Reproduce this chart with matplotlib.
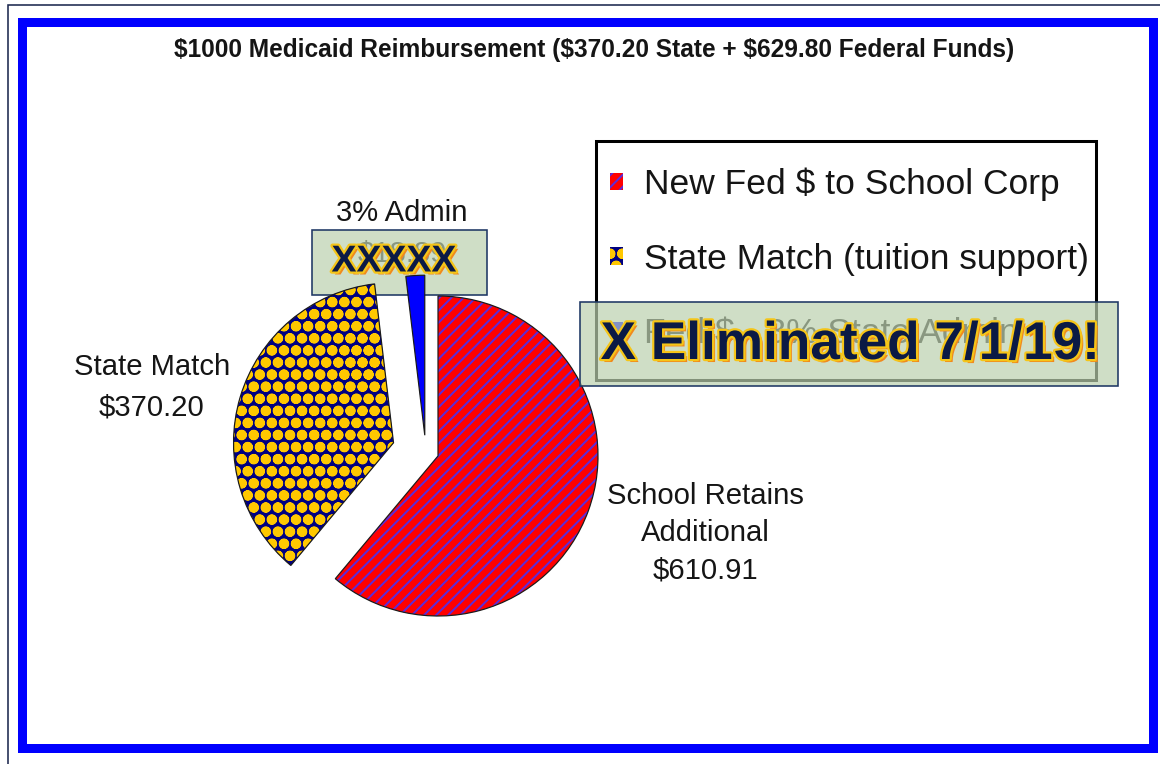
import numpy as np
import matplotlib
matplotlib.use("Agg")
import matplotlib.pyplot as plt
from matplotlib.patches import Rectangle
from matplotlib import patheffects as pe

# Размер картинки в пикселях
W, H = 1160, 764
DPI = 145

# Данные диаграммы
title = "$1000 Medicaid Reimbursement ($370.20 State + $629.80 Federal Funds)"
slice_labels = ["New Fed $ to School Corp", "State Match (tuition support)", "Fed $ - 3% State Admin"]
slice_values = [610.91, 370.20, 18.89]
slice_explode = [0.0, 0.29, 0.13]
callouts = ["School Retains\nAdditional\n$610.91", "State Match\n$370.20", "3% Admin"]
hidden_admin = "$18.89"
stamp_small = "XXXXX"
stamp_big = "X Eliminated 7/1/19!"

# Стили
slice_faces = ["#FF0000", "#000080", "#0000FF"]
slice_hatch_colors = ["#5E2BD8", "#FFC800", "#0000FF"]
slice_hatches = ["////", "OOoo..", None]
TXT = "#151515"
SAGE = "#BBD0AE"
NAVY_EDGE = "#1F3864"

plt.rcParams['font.family'] = ['Liberation Sans', 'DejaVu Sans']
plt.rcParams['hatch.linewidth'] = 1.0

PIE_C = (438, H - 456)
PIE_R = 160
ADMIN_NUDGE = (-12, 0)


def place_wedges(wedges):
    """Сдвигаем сектора (explode в долях радиуса)."""
    for i, (w, e) in enumerate(zip(wedges, slice_explode)):
        tm = np.deg2rad((w.theta1 + w.theta2) / 2)
        cx = PIE_C[0] + e * PIE_R * np.cos(tm)
        cy = PIE_C[1] + e * PIE_R * np.sin(tm)
        if i == 2:
            cx += ADMIN_NUDGE[0]
            cy += ADMIN_NUDGE[1]
        w.set_center((cx, cy))


fig = plt.figure(figsize=(W / DPI, H / DPI), dpi=DPI)
ax = fig.add_axes([0, 0, 1, 1])

# Сектора с заливкой-штриховкой
wedges, _ = ax.pie(slice_values, startangle=90, counterclock=False,
                   center=PIE_C, radius=PIE_R, colors=slice_faces,
                   labels=None, wedgeprops=dict(linewidth=0))
for w, hc, hp in zip(wedges, slice_hatch_colors, slice_hatches):
    w.set_edgecolor(hc)
    w.set_linewidth(0)
    w.set_hatch(hp)
    w.set_zorder(3)
place_wedges(wedges)

# Контуры секторов
outlines, _ = ax.pie(slice_values, startangle=90, counterclock=False,
                     center=PIE_C, radius=PIE_R, colors=['none'] * 3,
                     wedgeprops=dict(linewidth=0.6, edgecolor='#1a1a1a', fill=False))
for w in outlines:
    w.set_zorder(3.1)
place_wedges(outlines)

ax.set_xlim(0, W)
ax.set_ylim(0, H)
ax.axis('off')

# Рамки
ax.add_patch(Rectangle((8, -50), W + 100, H - 5 + 50, fill=False,
                       edgecolor='#1F2A50', linewidth=0.8, zorder=1))
ax.add_patch(Rectangle((21.5, H - 748), 1131, 726.5, fill=False,
                       edgecolor='#0000FF', linewidth=9 / (DPI / 72), zorder=1))

# Заголовок
ax.text(594, H - 50, title, ha='center', va='center', fontsize=12.2,
        fontweight='bold', color=TXT, parse_math=False)

# Подписи секторов
ax.text(705, H - 533, callouts[0], ha='center', va='center', fontsize=14.5,
        color=TXT, linespacing=1.42)
ax.text(152, H - 387, callouts[1], ha='center', va='center', fontsize=14.5,
        color=TXT, linespacing=1.55)
ax.text(402, H - 213, callouts[2], ha='center', va='center', fontsize=14.5,
        color=TXT)
ax.text(402, H - 254, hidden_admin, ha='center', va='center', fontsize=14.5,
        color=TXT, zorder=1.5)

# Легенда (рамка рисуется отдельно)
leg = ax.legend(wedges, slice_labels, loc='center left',
                bbox_to_anchor=(610, H - 259), bbox_transform=ax.transData,
                borderaxespad=0, fontsize=17.6, frameon=False,
                handlelength=0.37, handleheight=0.37, handletextpad=0.58,
                labelspacing=1.17, borderpad=0)
for t in leg.get_texts():
    t.set_color(TXT)
leg.set_zorder(5)
ax.add_patch(Rectangle((596, H - 380), 500, 239, fill=False,
                       edgecolor='black', linewidth=1.5, zorder=5))

# Зелёные плашки поверх
ax.add_patch(Rectangle((312, H - 295), 175, 65, facecolor=SAGE, alpha=0.7,
                       edgecolor='none', zorder=2))
ax.add_patch(Rectangle((312, H - 295), 175, 65, fill=False,
                       edgecolor=NAVY_EDGE, linewidth=0.8, zorder=2.1))
ax.add_patch(Rectangle((580, H - 386), 538, 84, facecolor=SAGE, alpha=0.7,
                       edgecolor='none', zorder=6))
ax.add_patch(Rectangle((580, H - 386), 538, 84, fill=False,
                       edgecolor=NAVY_EDGE, linewidth=0.8, zorder=6.1))

stamp_fx = [pe.SimplePatchShadow(offset=(1.5, -1.5), shadow_rgbFace='#F08A1E', alpha=1),
            pe.Stroke(linewidth=2.2, foreground='#F5C518'), pe.Normal()]
ax.text(394, H - 262, stamp_small, ha='center', va='center', fontsize=18.6,
        fontweight='bold', color='#0B1A45', zorder=7, path_effects=stamp_fx)
ax.text(850, H - 345, stamp_big, ha='center', va='center', fontsize=26.4,
        fontweight='bold', color='#0B1A45', zorder=7, path_effects=stamp_fx)

fig.savefig("out.png", dpi=DPI)
plt.close(fig)
